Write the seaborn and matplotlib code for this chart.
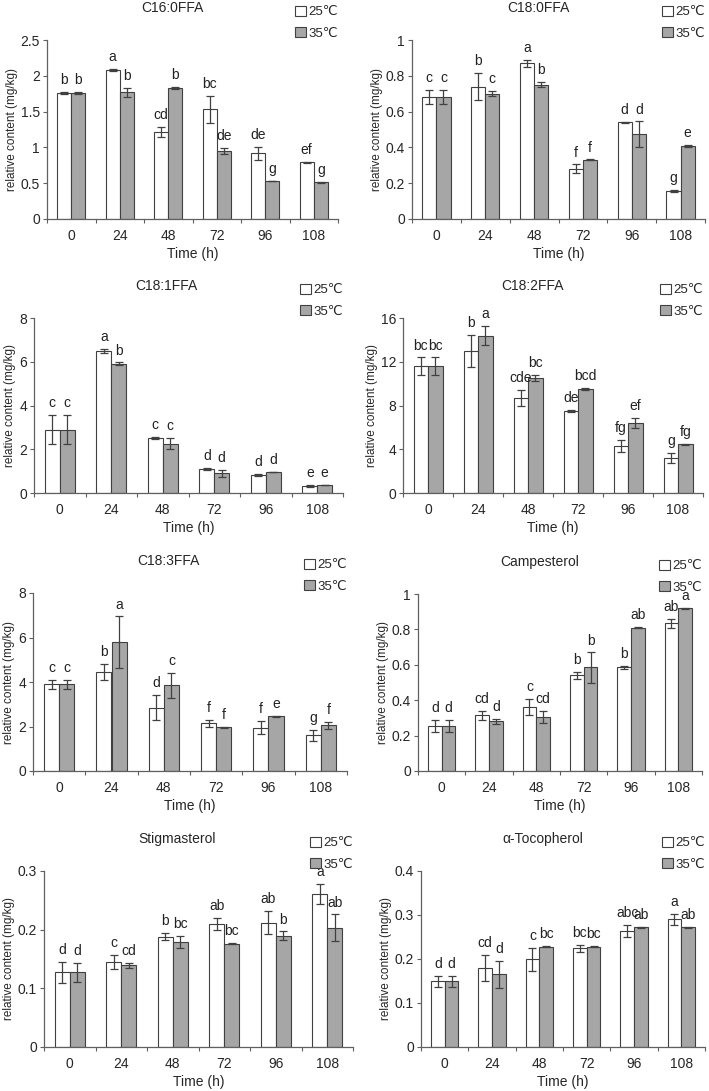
import matplotlib
matplotlib.use("Agg")
import matplotlib.pyplot as plt
from matplotlib.patches import Patch
from matplotlib.ticker import FormatStrFormatter, MultipleLocator
import pandas as pd
import seaborn as sns

# ---------------------------------------------------------------------------
# Data (means, error bars and significance letters)
# ---------------------------------------------------------------------------
TIMES = ["0", "24", "48", "72", "96", "108"]
TEMPS = ["25℃", "35℃"]

c160_25 = [1.76, 2.08, 1.21, 1.53, 0.92, 0.79]
c160_25_err = [0.01, 0.01, 0.07, 0.19, 0.09, 0.01]
c160_35 = [1.76, 1.77, 1.83, 0.95, 0.53, 0.51]
c160_35_err = [0.01, 0.06, 0.02, 0.04, 0.005, 0.01]
c160_25_let = ["b", "a", "cd", "bc", "de", "ef"]
c160_35_let = ["b", "b", "b", "de", "g", "g"]

c180_25 = [0.68, 0.74, 0.87, 0.28, 0.54, 0.155]
c180_25_err = [0.04, 0.075, 0.02, 0.025, 0.002, 0.005]
c180_35 = [0.68, 0.70, 0.75, 0.33, 0.475, 0.41]
c180_35_err = [0.04, 0.015, 0.015, 0.003, 0.07, 0.005]
c180_25_let = ["c", "b", "a", "f", "d", "g"]
c180_35_let = ["c", "c", "b", "f", "d", "e"]

c181_25 = [2.9, 6.5, 2.5, 1.1, 0.83, 0.33]
c181_25_err = [0.65, 0.08, 0.05, 0.04, 0.04, 0.05]
c181_35 = [2.9, 5.9, 2.25, 0.9, 0.95, 0.37]
c181_35_err = [0.65, 0.07, 0.25, 0.15, 0.01, 0.01]
c181_25_let = ["c", "a", "c", "d", "d", "e"]
c181_35_let = ["c", "b", "c", "d", "d", "e"]

c182_25 = [11.6, 13.0, 8.7, 7.5, 4.3, 3.2]
c182_25_err = [0.8, 1.45, 0.7, 0.1, 0.55, 0.45]
c182_35 = [11.6, 14.4, 10.5, 9.5, 6.4, 4.45]
c182_35_err = [0.8, 0.85, 0.3, 0.08, 0.5, 0.05]
c182_25_let = ["bc", "b", "cde", "de", "fg", "g"]
c182_35_let = ["bc", "a", "bc", "bcd", "ef", "fg"]

c183_25 = [3.9, 4.45, 2.85, 2.15, 1.95, 1.6]
c183_25_err = [0.2, 0.35, 0.55, 0.15, 0.3, 0.25]
c183_35 = [3.9, 5.8, 3.85, 1.97, 2.45, 2.05]
c183_35_err = [0.2, 1.15, 0.55, 0.03, 0.02, 0.17]
c183_25_let = ["c", "b", "d", "f", "f", "g"]
c183_35_let = ["c", "a", "c", "f", "e", "f"]

camp_25 = [0.255, 0.315, 0.36, 0.54, 0.585, 0.835]
camp_25_err = [0.035, 0.025, 0.045, 0.02, 0.01, 0.025]
camp_35 = [0.255, 0.28, 0.305, 0.585, 0.81, 0.92]
camp_35_err = [0.035, 0.015, 0.035, 0.085, 0.002, 0.002]
camp_25_let = ["d", "cd", "c", "b", "b", "ab"]
camp_35_let = ["d", "d", "cd", "b", "ab", "a"]

stig_25 = [0.127, 0.145, 0.188, 0.21, 0.212, 0.261]
stig_25_err = [0.018, 0.012, 0.006, 0.01, 0.02, 0.017]
stig_35 = [0.127, 0.139, 0.179, 0.176, 0.19, 0.203]
stig_35_err = [0.017, 0.005, 0.01, 0.001, 0.007, 0.023]
stig_25_let = ["d", "c", "b", "ab", "ab", "a"]
stig_35_let = ["d", "cd", "bc", "bc", "b", "ab"]

toco_25 = [0.149, 0.179, 0.199, 0.224, 0.264, 0.29]
toco_25_err = [0.012, 0.03, 0.027, 0.008, 0.013, 0.012]
toco_35 = [0.149, 0.165, 0.228, 0.228, 0.272, 0.272]
toco_35_err = [0.012, 0.03, 0.001, 0.001, 0.001, 0.001]
toco_25_let = ["d", "cd", "c", "bc", "abc", "a"]
toco_35_let = ["d", "d", "bc", "bc", "ab", "ab"]

PANELS = [
    ("C16:0FFA", c160_25, c160_25_err, c160_35, c160_35_err, c160_25_let, c160_35_let, 2.5, 0.5),
    ("C18:0FFA", c180_25, c180_25_err, c180_35, c180_35_err, c180_25_let, c180_35_let, 1.0, 0.2),
    ("C18:1FFA", c181_25, c181_25_err, c181_35, c181_35_err, c181_25_let, c181_35_let, 8, 2),
    ("C18:2FFA", c182_25, c182_25_err, c182_35, c182_35_err, c182_25_let, c182_35_let, 16, 4),
    ("C18:3FFA", c183_25, c183_25_err, c183_35, c183_35_err, c183_25_let, c183_35_let, 8, 2),
    ("Campesterol", camp_25, camp_25_err, camp_35, camp_35_err, camp_25_let, camp_35_let, 1.0, 0.2),
    ("Stigmasterol", stig_25, stig_25_err, stig_35, stig_35_err, stig_25_let, stig_35_let, 0.3, 0.1),
    ("α-Tocopherol", toco_25, toco_25_err, toco_35, toco_35_err, toco_25_let, toco_35_let, 0.4, 0.1),
]

# axes boxes in pixels: left, right, top, bottom
BOXES = [
    (47, 338, 40, 219), (412, 705, 40, 219),
    (34, 343, 318, 493), (403, 703, 318, 493),
    (33, 347, 593, 771), (418, 702, 594, 771),
    (44, 353, 871, 1047), (421, 705, 871, 1047),
]

W, H = 709, 1091
BAR_COLORS = {"25℃": "#ffffff", "35℃": "#a6a6a6"}
EDGE = "#404040"
AXIS = "#606060"

sns.set_style("ticks")
plt.rcParams["font.family"] = ["Liberation Sans", "DejaVu Sans"]
plt.rcParams["font.size"] = 10


def draw_panel(ax, title, m25, e25, m35, e35, l25, l35, ymax, step):
    df = pd.DataFrame({
        "time": TIMES * 2,
        "temp": [TEMPS[0]] * len(TIMES) + [TEMPS[1]] * len(TIMES),
        "value": m25 + m35,
    })
    sns.barplot(
        data=df, x="time", y="value", hue="temp",
        order=TIMES, hue_order=TEMPS, palette=BAR_COLORS,
        width=0.58, gap=0, saturation=1, errorbar=None,
        edgecolor=EDGE, linewidth=0.8, legend=False, ax=ax,
    )

    # pair bars (sorted left to right) with interleaved values
    vals, errs, lets = [], [], []
    for i in range(len(TIMES)):
        vals += [m25[i], m35[i]]
        errs += [e25[i], e35[i]]
        lets += [l25[i], l35[i]]
    bars = sorted(ax.patches, key=lambda p: p.get_x())
    for bar, v, e, lab in zip(bars, vals, errs, lets):
        xc = bar.get_x() + bar.get_width() / 2
        ax.errorbar(xc, v, yerr=e, fmt="none", ecolor=EDGE,
                    elinewidth=0.9, capsize=3, capthick=0.9, zorder=5)
        ax.annotate(lab, (xc, v + e), xytext=(0, 3.5), textcoords="offset points",
                    ha="center", va="bottom", fontsize=10, color="#222222")

    ax.set_xlim(-0.5, len(TIMES) - 0.5)
    ax.set_ylim(0, ymax)
    ax.yaxis.set_major_locator(MultipleLocator(step))
    ax.yaxis.set_major_formatter(FormatStrFormatter("%g"))
    ax.set_xticks([i - 0.5 for i in range(len(TIMES) + 1)], minor=True)
    ax.tick_params(axis="x", which="major", length=0, pad=7, labelsize=10)
    ax.tick_params(axis="x", which="minor", length=3, width=0.8, color=AXIS)
    ax.tick_params(axis="y", length=3, width=0.8, color=AXIS, pad=2, labelsize=10)
    for side in ("left", "bottom"):
        ax.spines[side].set_color(AXIS)
        ax.spines[side].set_linewidth(0.9)
    sns.despine(ax=ax)

    ax.set_xlabel("Time (h)", fontsize=10, labelpad=3)
    ax.set_ylabel("relative content (mg/kg)", fontsize=8.5, labelpad=2)
    ax.annotate(title, xy=(0.43, 1.0), xycoords="axes fraction",
                xytext=(0, 23), textcoords="offset points",
                ha="center", va="center", fontsize=10)

    handles = [Patch(facecolor=BAR_COLORS[t], edgecolor=EDGE, linewidth=0.8) for t in TEMPS]
    ax.legend(handles, TEMPS, loc="lower right", bbox_to_anchor=(1.0, 1.0),
              frameon=False, fontsize=9.5, handlelength=0.8, handleheight=0.8,
              handletextpad=0.2, labelspacing=0.7, borderpad=0, borderaxespad=0)


fig = plt.figure(figsize=(W / 100, H / 100), dpi=100)
for panel, (left, right, top, bottom) in zip(PANELS, BOXES):
    ax = fig.add_axes([left / W, 1 - bottom / H, (right - left) / W, (bottom - top) / H])
    draw_panel(ax, *panel)

fig.savefig("out.png", dpi=100)
